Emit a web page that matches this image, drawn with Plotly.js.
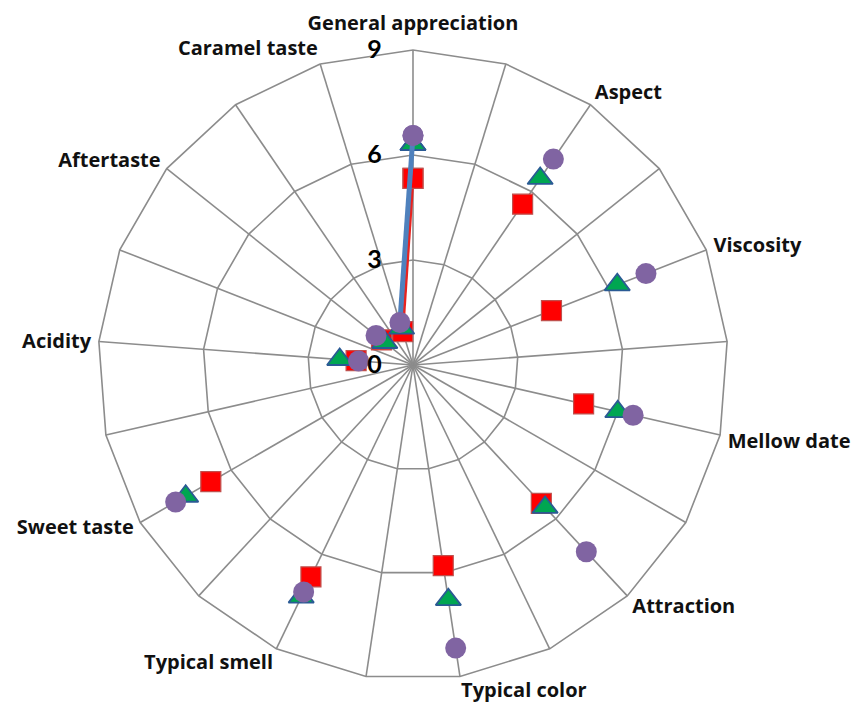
<!DOCTYPE html>
<html>
<head>
<meta charset="utf-8">
<script src="https://cdn.plot.ly/plotly-3.0.1.min.js"></script>
<style>html,body{margin:0;padding:0;background:#fff;}#chart{width:867px;height:704px;}</style>
</head>
<body>
<div id="chart"></div>
<script>
// 21 spokes; only every other spoke carries a label and data
const spokeLabels = ["General appreciation","","Aspect","","Viscosity","","Mellow date","","Attraction","",
  "Typical color","","Typical smell","","Sweet taste","","Acidity","","Aftertaste","","Caramel taste"];
const spokeKeys = ["s0","s1","s2","s3","s4","s5","s6","s7","s8","s9","s10",
  "s11","s12","s13","s14","s15","s16","s17","s18","s19","s20"];
// labels that Excel set a little higher than the others (top and lower half of the chart)
const raisedLabels = ["General appreciation","Attraction","Typical color","Typical smell","Sweet taste"];

const squareValues   = [5.33,null,5.56,null,4.25,null,5.0,null,5.39,null,5.8,null,6.72,null,6.67,null,1.63,null,1.15,null,1.0];
const triangleValues = [6.3,null,6.45,null,6.27,null,6.0,null,5.55,null,6.78,null,7.36,null,7.5,null,2.1,null,1.03,null,1.1];
const circleValues   = [6.56,null,7.12,null,7.15,null,6.45,null,7.28,null,8.18,null,7.2,null,7.83,null,1.56,null,1.35,null,1.27];

const radialTicks = [0,3,6,9];

function closeLoop(a){ return a.concat([a[0]]); }
const thetaClosed = closeLoop(spokeKeys);

const traces = [
  {type:'scatterpolar', r:closeLoop(squareValues), theta:thetaClosed, mode:'lines+markers',
   connectgaps:false, cliponaxis:false,
   line:{color:'#e8231f', width:3},
   marker:{symbol:'square', size:20, color:'#ff0000', line:{color:'#c0504d', width:1.2}}},
  {type:'scatterpolar', r:closeLoop(triangleValues), theta:thetaClosed, mode:'markers',
   cliponaxis:false,
   marker:{symbol:'triangle-up', size:22, color:'#00a651', line:{color:'#2a5a94', width:1.8}}},
  {type:'scatterpolar', r:closeLoop(circleValues), theta:thetaClosed, mode:'lines+markers',
   connectgaps:false, cliponaxis:false,
   line:{color:'#4f81bd', width:5},
   marker:{symbol:'circle', size:21, color:'#8064a2', line:{width:0}}},
  // empty carrier for the label-only polar subplot
  {type:'scatterpolar', subplot:'polar2', r:[null], theta:[spokeKeys[0]], mode:'markers', hoverinfo:'skip'}
];

const gridCol = '#8c8c8c';
const labelFont = {family:'"Open Sans", sans-serif', size:20, weight:'bold', color:'#111'};
const layout = {
  width:867, height:704,
  margin:{l:0,r:0,t:0,b:0},
  paper_bgcolor:'#ffffff',
  showlegend:false,
  font:{family:'"Open Sans", Lato, sans-serif', color:'#111'},
  polar:{
    domain:{x:[0.1130,0.8397], y:[0.0341,0.9290]},
    bgcolor:'#ffffff',
    gridshape:'linear',
    radialaxis:{
      range:[0,9], tickmode:'array', tickvals:radialTicks, ticktext:radialTicks.map(String),
      angle:90, side:'counterclockwise', tickangle:90,
      showline:false, showgrid:true, gridcolor:gridCol, gridwidth:1.6,
      ticks:'outside', ticklen:22, tickcolor:'rgba(0,0,0,0)',
      tickfont:{family:'Lato, sans-serif', size:25, weight:'bold', color:'#000'}
    },
    angularaxis:{
      type:'category', categoryorder:'array', categoryarray:spokeKeys,
      tickmode:'array', tickvals:spokeKeys,
      ticktext:spokeLabels.map(l => raisedLabels.includes(l) ? '' : l),
      direction:'clockwise', rotation:90,
      showline:true, linecolor:gridCol, linewidth:1.6,
      showgrid:true, gridcolor:gridCol, gridwidth:1.6,
      ticks:'outside', ticklen:3, tickcolor:'rgba(0,0,0,0)',
      tickfont:labelFont
    }
  },
  polar2:{
    domain:{x:[0.1130,0.8397], y:[0.0455,0.9404]},
    bgcolor:'rgba(0,0,0,0)',
    gridshape:'linear',
    radialaxis:{range:[0,9], visible:false},
    angularaxis:{
      type:'category', categoryorder:'array', categoryarray:spokeKeys,
      tickmode:'array', tickvals:spokeKeys,
      ticktext:spokeLabels.map(l => raisedLabels.includes(l) ? l : ''),
      direction:'clockwise', rotation:90,
      showline:false, showgrid:false,
      ticks:'outside', ticklen:3, tickcolor:'rgba(0,0,0,0)',
      tickfont:labelFont
    }
  }
};

Plotly.newPlot('chart', traces, layout, {displayModeBar:false, staticPlot:true});
</script>
</body>
</html>
